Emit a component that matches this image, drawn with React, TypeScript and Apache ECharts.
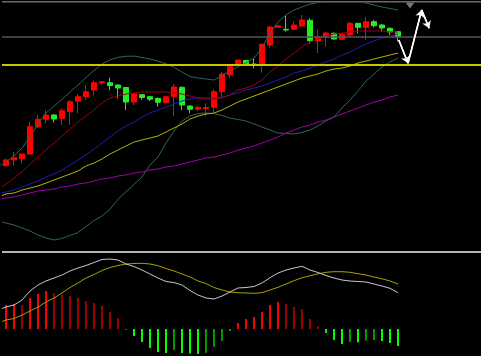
import React, { useEffect, useRef } from "react";
import * as echarts from "echarts";

// 61 category slots: slot 0 is the bar before the first visible candle, 1..50 are candles, 51..60 empty space on the right
const categories = Array.from({ length: 61 }, (_, i) => `K${i}`);

// candles: [open, close, low, high]
const candles = [
  [13.43, 14.0, 13.35, 14.15],
  [14.0, 14.23, 13.43, 14.83],
  [14.13, 14.6, 13.67, 14.67],
  [14.6, 17.33, 14.55, 17.83],
  [17.33, 18.07, 17.2, 18.5],
  [18.07, 18.5, 17.67, 19.0],
  [18.5, 18.1, 17.73, 18.6],
  [18.17, 18.93, 17.5, 19.17],
  [18.83, 19.83, 17.5, 20.0],
  [19.9, 20.33, 18.67, 20.6],
  [20.33, 20.83, 20.0, 21.5],
  [21.0, 21.73, 20.43, 21.93],
  [21.7, 21.83, 21.5, 21.9],
  [21.73, 21.43, 21.0, 22.23],
  [21.5, 21.2, 20.17, 21.55],
  [21.25, 19.8, 19.0, 21.3],
  [19.8, 20.6, 19.5, 20.67],
  [20.53, 20.25, 20.0, 20.6],
  [20.33, 20.08, 19.9, 20.4],
  [20.15, 19.77, 19.33, 20.27],
  [19.73, 20.33, 19.65, 20.4],
  [20.33, 21.3, 18.4, 21.6],
  [21.27, 19.5, 19.0, 21.35],
  [19.4, 19.07, 18.67, 19.45],
  [19.07, 19.27, 18.9, 19.4],
  [19.15, 19.25, 18.4, 19.67],
  [19.27, 20.83, 18.8, 21.07],
  [20.83, 22.6, 20.3, 22.83],
  [22.5, 23.33, 22.17, 23.5],
  [23.6, 24.0, 23.55, 24.05],
  [23.95, 23.57, 23.55, 24.0],
  [23.6, 23.55, 23.17, 24.17],
  [23.6, 25.57, 22.73, 25.65],
  [25.5, 27.3, 25.17, 27.4],
  [27.27, 27.43, 27.23, 27.47],
  [27.07, 27.0, 26.83, 28.5],
  [27.07, 27.5, 27.0, 27.83],
  [27.4, 28.0, 27.33, 28.5],
  [27.97, 25.93, 25.65, 28.17],
  [25.9, 26.3, 24.7, 27.0],
  [26.33, 26.7, 25.33, 26.83],
  [26.67, 26.1, 26.05, 26.75],
  [26.07, 26.6, 26.0, 26.67],
  [26.5, 27.67, 26.33, 27.83],
  [27.67, 27.27, 26.67, 27.7],
  [27.27, 27.83, 26.0, 28.3],
  [27.83, 27.43, 27.27, 28.0],
  [27.5, 27.2, 26.83, 27.6],
  [27.17, 26.8, 26.5, 27.23],
  [26.83, 26.33, 25.83, 26.9],
];

// indicator lines (slot 0 .. 50)
const maRed = [11.0, 11.6, 12.2, 12.8, 13.6, 14.3, 15.0, 15.7, 16.4, 17.1, 17.8, 18.4, 19.0, 19.7, 20.2, 20.4, 20.6, 20.7, 20.8, 20.8, 20.8, 20.8, 20.7, 20.6, 20.4, 20.2, 20.1, 20.1, 20.2, 20.5, 21.0, 21.2, 21.5, 22.0, 22.8, 23.4, 24.1, 24.7, 25.3, 25.8, 26.1, 26.4, 26.6, 26.7, 26.8, 26.9, 26.9, 26.9, 26.9, 26.8, 26.8];
const maBlue = [10.7, 10.8, 11.0, 11.3, 11.6, 11.9, 12.3, 12.6, 13.0, 13.5, 14.0, 14.5, 15.1, 15.7, 16.3, 16.9, 17.4, 17.8, 18.3, 18.7, 19.0, 19.3, 19.6, 19.9, 20.1, 20.2, 20.2, 20.2, 20.3, 20.5, 20.7, 21.0, 21.2, 21.4, 21.7, 22.0, 22.3, 22.7, 22.9, 23.2, 23.5, 23.8, 24.1, 24.5, 24.8, 25.2, 25.6, 25.9, 26.2, 26.4, 26.6];
const maYellow = [10.3, 10.6, 10.7, 11.0, 11.2, 11.4, 11.7, 12.0, 12.3, 12.6, 12.9, 13.4, 13.7, 14.1, 14.6, 15.0, 15.4, 15.8, 16.0, 16.2, 16.4, 16.8, 17.2, 17.6, 18.1, 18.4, 18.6, 18.7, 19.0, 19.4, 19.8, 20.1, 20.4, 20.7, 21.0, 21.3, 21.6, 21.9, 22.2, 22.4, 22.6, 22.9, 23.1, 23.2, 23.4, 23.7, 23.9, 24.1, 24.3, 24.5, 24.7];
const maMagenta = [10.1, 10.2, 10.3, 10.5, 10.7, 10.9, 11.0, 11.1, 11.3, 11.4, 11.6, 11.7, 11.9, 12.1, 12.2, 12.4, 12.5, 12.7, 12.8, 13.0, 13.1, 13.3, 13.4, 13.6, 13.8, 14.0, 14.2, 14.3, 14.5, 14.7, 15.0, 15.2, 15.4, 15.7, 16.0, 16.3, 16.7, 17.0, 17.3, 17.5, 17.8, 18.0, 18.3, 18.6, 18.9, 19.2, 19.5, 19.8, 20.0, 20.3, 20.5];
const bollUpper = [13.2, 13.8, 14.4, 15.2, 16.3, 17.6, 18.7, 19.4, 20.05, 20.8, 21.5, 22.25, 22.95, 23.6, 24.0, 24.27, 24.37, 24.39, 24.25, 24.1, 23.88, 23.62, 23.26, 22.8, 22.35, 22.2, 22.1, 22.0, 22.45, 22.9, 23.35, 23.7, 24.2, 25.2, 26.7, 27.8, 28.5, 29.0, 29.3, 29.6, 29.75, 29.9, 30.0, 30.1, 30.0, 29.9, 29.7, 29.5, 29.3, 29.15, 29.0];
const bollLower = [7.9, 7.7, 7.5, 7.2, 6.9, 6.5, 6.2, 6.0, 6.15, 6.45, 6.75, 7.35, 7.94, 8.4, 9.07, 10.07, 10.83, 11.55, 12.3, 13.5, 14.3, 15.7, 16.9, 17.9, 18.4, 18.65, 18.7, 18.65, 18.45, 18.2, 18.05, 17.9, 17.6, 17.3, 17.0, 16.7, 16.65, 16.6, 16.75, 17.0, 17.4, 17.9, 18.3, 19.2, 20.0, 20.9, 21.9, 22.6, 23.3, 23.8, 24.2];

// price levels
const levelGray = 26.3;
const levelYellow = 23.55;

// projection zigzag [slot, price]
const projection = [
  [50.1, 26.0],
  [51.25, 23.67],
  [52.96, 29.0],
  [53.9, 27.17],
];
const marker = [[51.5, 29.45]];

// MACD (slot 0 .. 50)
const dif = [0.19, 0.22, 0.24, 0.29, 0.38, 0.44, 0.48, 0.51, 0.54, 0.58, 0.61, 0.635, 0.665, 0.695, 0.7, 0.69, 0.65, 0.625, 0.59, 0.55, 0.51, 0.475, 0.465, 0.44, 0.385, 0.34, 0.31, 0.3, 0.33, 0.37, 0.41, 0.415, 0.425, 0.46, 0.513, 0.56, 0.59, 0.61, 0.627, 0.59, 0.565, 0.535, 0.51, 0.49, 0.48, 0.475, 0.47, 0.45, 0.43, 0.407, 0.363];
const dea = [0.06, 0.09, 0.105, 0.14, 0.18, 0.22, 0.27, 0.31, 0.36, 0.415, 0.46, 0.51, 0.545, 0.585, 0.615, 0.635, 0.65, 0.655, 0.657, 0.65, 0.633, 0.605, 0.58, 0.55, 0.52, 0.48, 0.455, 0.415, 0.39, 0.37, 0.363, 0.36, 0.357, 0.363, 0.39, 0.417, 0.45, 0.483, 0.512, 0.533, 0.552, 0.567, 0.573, 0.573, 0.567, 0.553, 0.54, 0.52, 0.502, 0.48, 0.45];
// histogram (candles 1..50)
const hist = [0.24, 0.25, 0.24, 0.31, 0.35, 0.38, 0.36, 0.34, 0.33, 0.31, 0.28, 0.26, 0.23, 0.17, 0.11, -0.005, -0.07, -0.13, -0.19, -0.23, -0.24, -0.21, -0.24, -0.245, -0.25, -0.237, -0.177, -0.117, -0.02, 0.06, 0.1, 0.12, 0.17, 0.24, 0.27, 0.25, 0.22, 0.2, 0.1, 0.03, -0.04, -0.11, -0.15, -0.13, -0.133, -0.115, -0.11, -0.12, -0.14, -0.17];

const UP = "#ff0000";
const DOWN = "#22ee22";

export default function App() {
  const ref = useRef<HTMLDivElement>(null);

  useEffect(() => {
    document.body.style.margin = "0";
    document.body.style.background = "#000";
    const chart = echarts.init(ref.current!, null, { renderer: "svg" });

    const histData = hist.map((v, i) => {
      const prev = i > 0 ? hist[i - 1] : v;
      let color: string;
      if (v >= 0) color = v >= prev ? "#ff0000" : "#990000";
      else color = v <= prev ? "#00ff00" : "#009a00";
      return { value: v, itemStyle: { color } };
    });

    const line = (data: number[], color: string, xi = 0, yi = 0, width = 1) => ({
      type: "line",
      xAxisIndex: xi,
      yAxisIndex: yi,
      data,
      symbol: "none",
      silent: true,
      lineStyle: { color, width },
      z: 3,
    });

    const option: any = {
      animation: false,
      backgroundColor: "#000000",
      grid: [
        { left: -6, top: 3, width: 488, height: 248, outerBoundsMode: "none", containLabel: false },
        { left: -6, top: 253, width: 488, height: 103, outerBoundsMode: "none", containLabel: false },
      ],
      xAxis: [
        { type: "category", gridIndex: 0, data: categories, boundaryGap: true, show: false },
        { type: "category", gridIndex: 1, data: categories, boundaryGap: true, show: false },
        { type: "value", gridIndex: 0, min: -0.5, max: 60.5, show: false },
      ],
      yAxis: [
        { type: "value", gridIndex: 0, min: 4.9, max: 29.7, show: false, splitLine: { show: false } },
        { type: "value", gridIndex: 1, min: -0.27, max: 0.76, show: false, splitLine: { show: false } },
      ],
      series: [
        {
          type: "candlestick",
          xAxisIndex: 0,
          yAxisIndex: 0,
          data: [["-", "-", "-", "-"], ...candles],
          barWidth: 5,
          silent: true,
          z: 2,
          itemStyle: {
            color: UP,
            color0: DOWN,
            borderColor: UP,
            borderColor0: DOWN,
            borderWidth: 1,
          },
          markLine: {
            silent: true,
            symbol: "none",
            label: { show: false },
            data: [
              { yAxis: levelGray, lineStyle: { color: "#55555e", width: 1.5, type: "solid" } },
              { yAxis: levelYellow, lineStyle: { color: "#c8c800", width: 2, type: "solid" } },
            ],
          },
        },
        line(bollUpper, "#2f6653"),
        line(bollLower, "#2f6653"),
        line(maMagenta, "#a000a8"),
        line(maYellow, "#b4b400"),
        line(maBlue, "#1e1eb0"),
        line(maRed, "#a00000"),
        {
          type: "line",
          xAxisIndex: 2,
          yAxisIndex: 0,
          data: projection,
          symbol: "none",
          silent: true,
          lineStyle: { color: "#ffffff", width: 1.5 },
          z: 5,
          markLine: {
            silent: true,
            symbol: ["none", "arrow"],
            symbolSize: 7,
            label: { show: false },
            lineStyle: { color: "#ffffff", width: 1.5, type: "solid" },
            data: [
              [{ coord: projection[0] }, { coord: projection[1] }],
              [{ coord: projection[1] }, { coord: projection[2] }],
              [{ coord: projection[2] }, { coord: projection[3] }],
            ],
          },
        },
        {
          type: "scatter",
          xAxisIndex: 2,
          yAxisIndex: 0,
          data: marker,
          symbol: "triangle",
          symbolRotate: 180,
          symbolSize: [9, 6],
          silent: true,
          itemStyle: { color: "#8796a5" },
          z: 6,
        },
        {
          type: "bar",
          xAxisIndex: 1,
          yAxisIndex: 1,
          data: ["-", ...histData],
          barWidth: 2,
          silent: true,
        },
        line(dea, "#a8a000", 1, 1),
        line(dif, "#c8c8c8", 1, 1),
      ],
      graphic: [
        { type: "rect", shape: { x: 2, y: 1, width: 479, height: 1.5 }, style: { fill: "#6a6a6a" }, z: 100, silent: true },
        { type: "rect", shape: { x: 2, y: 251, width: 479, height: 2 }, style: { fill: "#b4b4b4" }, z: 100, silent: true },
        { type: "rect", shape: { x: 0, y: 0, width: 2, height: 356 }, style: { fill: "#000000" }, z: 100, silent: true },
      ],
    };

    chart.setOption(option);
    return () => chart.dispose();
  }, []);

  return <div ref={ref} style={{ width: 481, height: 356, background: "#000" }} />;
}
